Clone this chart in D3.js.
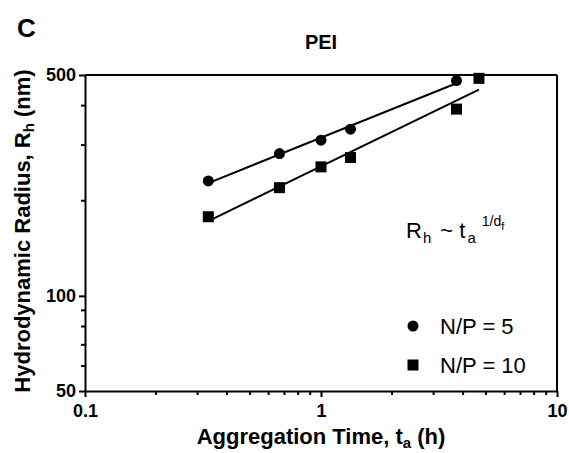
<!DOCTYPE html>
<html>
<head>
<meta charset="utf-8">
<script src="https://cdn.jsdelivr.net/npm/d3@7"></script>
<style>
  body { margin: 0; background: #fff; }
  svg { display: block; font-family: "Liberation Sans", Arial, sans-serif; }
  .axis path, .axis line { stroke: #000; }
  .axis text { font-weight: bold; font-size: 18px; fill: #000; }
</style>
</head>
<body>
<svg width="569" height="453"></svg>
<script>
// aggregation time (h) and hydrodynamic radius (nm)
const timesNP5 = [0.333, 0.667, 1.0, 1.333, 3.75];
const radiusNP5 = [231, 282, 311, 337, 480];
const timesNP10 = [0.333, 0.667, 1.0, 1.333, 3.75, 4.67];
const radiusNP10 = [178, 220, 256, 274, 390, 488];

const xTicks = [0.1, 1, 10];
const xMinor = [0.2, 0.3, 0.4, 0.5, 0.6, 0.7, 0.8, 0.9, 2, 3, 4, 5, 6, 7, 8, 9];
const yTicks = [50, 100, 500];
const yMinor = [60, 70, 80, 90, 200, 300, 400];

const svg = d3.select("svg");
const margin = { left: 85, right: 12, top: 75, bottom: 62 };
const W = 569, H = 453;

const x = d3.scaleLog().domain([0.1, 10]).range([margin.left, W - margin.right]);
const y = d3.scaleLog().domain([50, 500]).range([H - margin.bottom, margin.top]);

// power-law fit in log-log space
function fit(ts, rs) {
    const lx = ts.map(Math.log10), ly = rs.map(Math.log10);
    const mx = d3.mean(lx), my = d3.mean(ly);
    const slope = d3.sum(lx, (v, i) => (v - mx) * (ly[i] - my)) / d3.sum(lx, v => (v - mx) ** 2);
    return t => Math.pow(10, my + slope * (Math.log10(t) - mx));
}

// frame: top and right edges
svg.append("line").attr("x1", x(0.1)).attr("x2", x(10)).attr("y1", y(500)).attr("y2", y(500))
    .attr("stroke", "#000").attr("stroke-width", 2);
svg.append("line").attr("x1", x(10)).attr("x2", x(10)).attr("y1", y(500)).attr("y2", y(50))
    .attr("stroke", "#000").attr("stroke-width", 2);

// x axis
const gx = svg.append("g").attr("class", "axis")
    .attr("transform", `translate(0,${y(50)})`)
    .call(d3.axisBottom(x).tickValues(xTicks).tickFormat(d3.format("~g")).tickSize(6).tickSizeOuter(0));
gx.select(".domain").attr("stroke-width", 2);
gx.selectAll(".tick line").attr("stroke-width", 2);
gx.selectAll(".tick text").attr("dy", "0.95em");
svg.append("g").attr("transform", `translate(0,${y(50)})`)
    .selectAll("line").data(xMinor).join("line")
    .attr("x1", d => x(d)).attr("x2", d => x(d)).attr("y1", 0).attr("y2", 4)
    .attr("stroke", "#000").attr("stroke-width", 2);

// y axis
const gy = svg.append("g").attr("class", "axis")
    .attr("transform", `translate(${x(0.1)},0)`)
    .call(d3.axisLeft(y).tickValues(yTicks).tickFormat(d3.format("d")).tickSize(6).tickSizeOuter(0));
gy.select(".domain").attr("stroke-width", 2);
gy.selectAll(".tick line").attr("stroke-width", 2);
gy.selectAll(".tick text").attr("x", -9);
svg.append("g").attr("transform", `translate(${x(0.1)},0)`)
    .selectAll("line").data(yMinor).join("line")
    .attr("x1", 0).attr("x2", -4).attr("y1", d => y(d)).attr("y2", d => y(d))
    .attr("stroke", "#000").attr("stroke-width", 2);

// fit lines
const f5 = fit(timesNP5, radiusNP5);
const f10 = fit(timesNP10, radiusNP10);
const line = d3.line().x(d => x(d[0])).y(d => y(d[1]));
[[f5, timesNP5], [f10, timesNP10]].forEach(([f, ts]) => {
    const t0 = d3.min(ts), t1 = d3.max(ts);
    svg.append("path")
        .attr("d", line([[t0, f(t0)], [t1, f(t1)]]))
        .attr("fill", "none").attr("stroke", "#000").attr("stroke-width", 2);
});

// markers
svg.append("g").selectAll("circle").data(timesNP5).join("circle")
    .attr("cx", d => x(d)).attr("cy", (d, i) => y(radiusNP5[i])).attr("r", 5.5).attr("fill", "#000");
svg.append("g").selectAll("rect").data(timesNP10).join("rect")
    .attr("x", d => x(d) - 5.5).attr("y", (d, i) => y(radiusNP10[i]) - 5.5)
    .attr("width", 11).attr("height", 11).attr("fill", "#000");

// legend
svg.append("circle").attr("cx", 413).attr("cy", 326).attr("r", 5.5).attr("fill", "#000");
svg.append("rect").attr("x", 407.5).attr("y", 359.5).attr("width", 11).attr("height", 11).attr("fill", "#000");
svg.append("text").attr("x", 440).attr("y", 334).attr("font-size", 22).text("N/P = 5");
svg.append("text").attr("x", 440).attr("y", 373).attr("font-size", 22).text("N/P = 10");

// formula
const eq = svg.append("text").attr("x", 406).attr("y", 238).attr("font-size", 22);
eq.append("tspan").text("R");
eq.append("tspan").attr("font-size", 15).attr("dy", 5).attr("dx", 1).text("h");
eq.append("tspan").attr("dy", -5).attr("dx", 3).text(" ~ t");
eq.append("tspan").attr("font-size", 15).attr("dy", 5).attr("dx", 2).text("a");
eq.append("tspan").attr("font-size", 14).attr("dy", -17).attr("dx", 6).text("1/d");
eq.append("tspan").attr("font-size", 11).attr("dy", 4).text("f");

// titles
svg.append("text").attr("x", 17).attr("y", 37).attr("font-size", 26).attr("font-weight", "bold").text("C");
svg.append("text").attr("x", 321).attr("y", 49).attr("text-anchor", "middle")
    .attr("font-size", 20).attr("font-weight", "bold").text("PEI");

const xl = svg.append("text").attr("x", 321).attr("y", 444).attr("text-anchor", "middle")
    .attr("font-size", 22).attr("font-weight", "bold");
xl.append("tspan").text("Aggregation Time, t");
xl.append("tspan").attr("font-size", 15).attr("dy", 4).text("a");
xl.append("tspan").attr("dy", -4).text(" (h)");

const yl = svg.append("text").attr("transform", "translate(30,231) rotate(-90)").attr("text-anchor", "middle")
    .attr("font-size", 22).attr("font-weight", "bold");
yl.append("tspan").text("Hydrodynamic Radius, R");
yl.append("tspan").attr("font-size", 15).attr("dy", 4).text("h");
yl.append("tspan").attr("dy", -4).text(" (nm)");
</script>
</body>
</html>
